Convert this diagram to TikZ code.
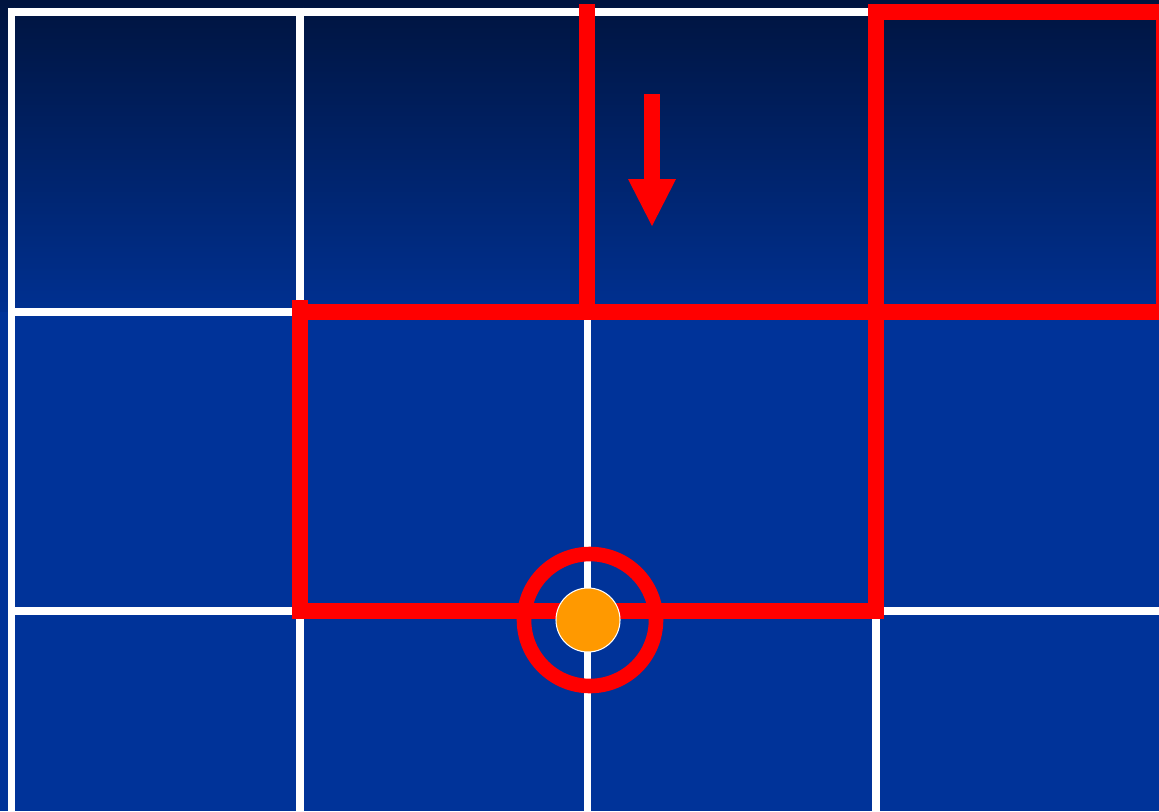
\documentclass[tikz,border=0pt]{standalone}
\usepackage{tikz}
\usetikzlibrary{arrows.meta, positioning, shapes.geometric}
\usepackage{xcolor}
\definecolor{navytop}{HTML}{00143F}
\definecolor{navymid}{HTML}{003399}
\definecolor{dotorange}{HTML}{FF9900}

\begin{document}
\begin{tikzpicture}[x=0.02cm, y=-0.02cm,
    gridline/.style={white, line width=4pt},
    redline/.style={red, line width=9.1pt},
    ringline/.style={red, line width=8.3pt}]
  \useasboundingbox (0,0) rectangle (1159,811);
  % Background
  \shade[top color=navytop, bottom color=navymid!95!black] (0,0) rectangle (1159,312);
  \fill[navymid] (0,312) rectangle (1159,811);
  % Grid
  \foreach \gx in {11.5,300,587.5,876}
    \draw[gridline] (\gx,8) -- (\gx,811);
  \foreach \gy in {12,312,611}
    \draw[gridline] (8,\gy) -- (1159,\gy);
  % Red outline
  \draw[redline] (587,4) -- (587,320);
  \draw[redline] (876,4) -- (876,619);
  \draw[redline] (868,12) -- (1164,12) -- (1164,320);
  \draw[redline] (292,312) -- (1164,312);
  \draw[redline] (300,300) -- (300,619);
  \draw[redline] (300,611) -- (884,611);
  % Arrow
  \fill[red] (644,94) rectangle (660,180);
  \fill[red] (628,179) -- (676,179) -- (652,226) -- cycle;
  % Target
  \coordinate (target) at (590,620);
  \draw[ringline] (target) circle[radius=66];
  \node[circle, fill=dotorange, draw=white, line width=0.6pt,
        minimum size=1.28cm, inner sep=0pt] (dot) at (588,620) {};
\end{tikzpicture}
\end{document}
